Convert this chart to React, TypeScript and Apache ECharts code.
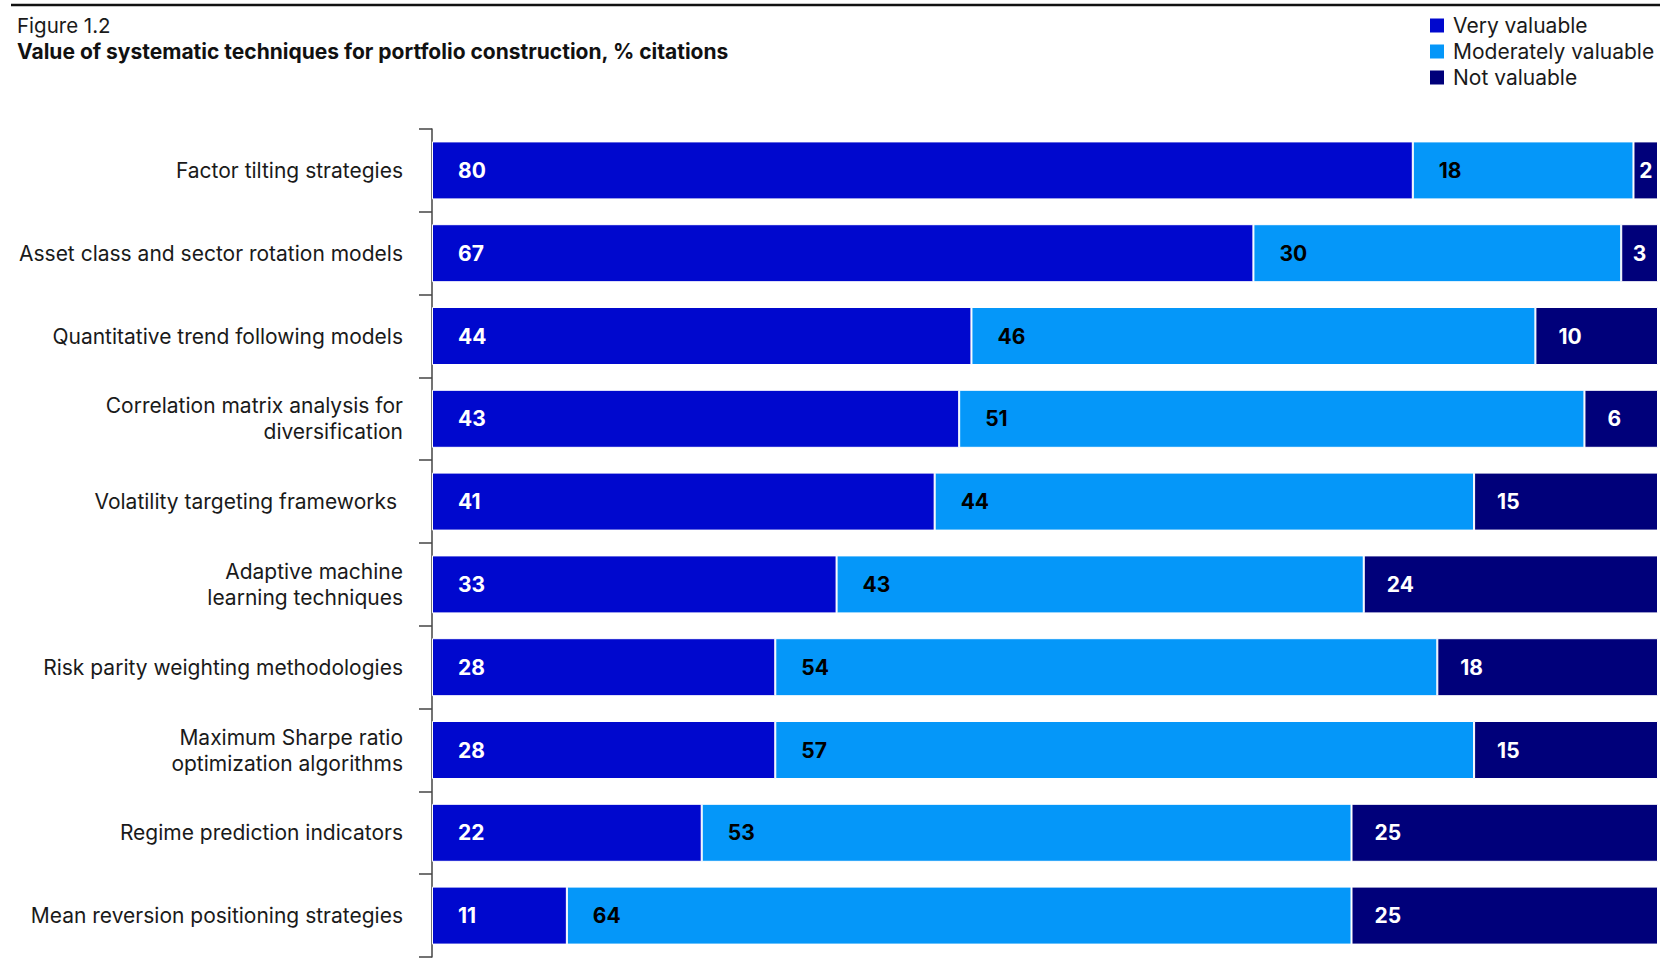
import React, { useEffect, useRef } from "react";
import * as echarts from "echarts";

const categories = [
  "Factor tilting strategies",
  "Asset class and sector rotation models",
  "Quantitative trend following models",
  "Correlation matrix analysis for\ndiversification",
  "Volatility targeting frameworks\u00a0",
  "Adaptive machine\nlearning techniques",
  "Risk parity weighting methodologies",
  "Maximum Sharpe ratio\noptimization algorithms",
  "Regime prediction indicators",
  "Mean reversion positioning strategies",
];
const veryValuable = [80, 67, 44, 43, 41, 33, 28, 28, 22, 11];
const moderatelyValuable = [18, 30, 46, 51, 44, 43, 54, 57, 53, 64];
const notValuable = [2, 3, 10, 6, 15, 24, 18, 15, 25, 25];
const seriesNames = ["Very valuable", "Moderately valuable", "Not valuable"];
const colors = ["#0008CE", "#0597F9", "#00007A"];
const labelColors = ["#ffffff", "#000000", "#ffffff"];
const labelDistances = [26, 26, 23];

const FONT = "Inter, 'Noto Sans', sans-serif";

export default function App() {
  const ref = useRef<HTMLDivElement>(null);
  useEffect(() => {
    if (!ref.current) return;
    const chart = echarts.init(ref.current, undefined, { renderer: "svg" });
    const all = [veryValuable, moderatelyValuable, notValuable];
    const series = all.map((vals, i) => ({
      name: seriesNames[i],
      type: "bar",
      stack: "total",
      barWidth: 58,
      itemStyle: { color: colors[i], borderColor: "#ffffff", borderWidth: 1 },
      label: {
        show: true,
        position: "insideLeft",
        distance: labelDistances[i],
        color: labelColors[i],
        fontFamily: FONT,
        fontWeight: "bold",
        fontSize: 21,
      },
      data: vals.map((v) =>
        v < 5 ? { value: v, label: { position: "inside", distance: 0 } } : v
      ),
    }));
    chart.setOption({
      animation: false,
      textStyle: { fontFamily: FONT },
      grid: { left: 432, right: 13, top: 129, bottom: 4, containLabel: false },
      legend: {
        orient: "vertical",
        left: 1423,
        top: 10,
        itemWidth: 16,
        itemHeight: 16,
        itemGap: 5,
        icon: "rect",
        data: seriesNames,
        textStyle: { fontFamily: FONT, fontSize: 21, color: "#1a1a1a", padding: [0, 0, 0, 3] },
      },
      graphic: [
        {
          type: "line",
          shape: { x1: 11, y1: 5, x2: 1660, y2: 5 },
          style: { stroke: "#111", lineWidth: 2.5 },
        },
        {
          type: "text",
          left: 17,
          top: 15,
          style: { text: "Figure 1.2", fontFamily: FONT, fontSize: 20.5, fill: "#1a1a1a" },
        },
        {
          type: "text",
          left: 17,
          top: 41,
          style: {
            text: "Value of systematic techniques for portfolio construction, % citations",
            fontFamily: FONT,
            fontSize: 21,
            fontWeight: "bold",
            fill: "#111",
          },
        },
      ],
      xAxis: { type: "value", min: 0, max: 100, show: false },
      yAxis: {
        type: "category",
        inverse: true,
        data: categories,
        axisLine: { show: true, lineStyle: { color: "#444", width: 1.5 } },
        axisTick: { show: true, length: 13, lineStyle: { color: "#444", width: 1.5 } },
        axisLabel: {
          margin: 29,
          fontFamily: FONT,
          fontSize: 21,
          color: "#1a1a1a",
          lineHeight: 26,
          align: "right",
          padding: [0, 0, 5, 0],
        },
      },
      series,
    });
    return () => chart.dispose();
  }, []);
  return (
    <div
      ref={ref}
      style={{ position: "fixed", left: 0, top: 0, width: 1671, height: 961, background: "#fff" }}
    />
  );
}
